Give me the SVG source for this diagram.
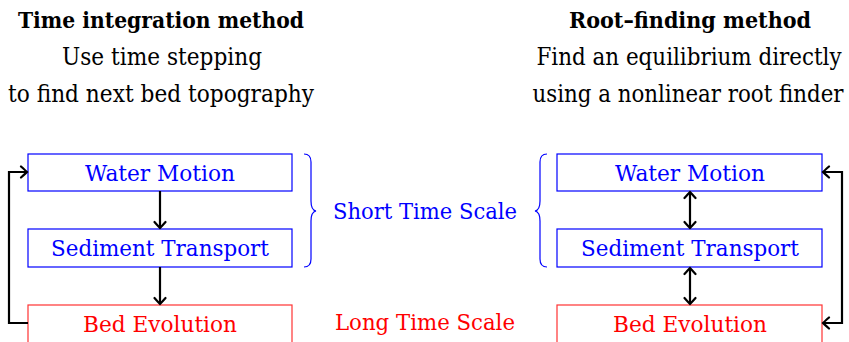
<svg xmlns="http://www.w3.org/2000/svg" width="849" height="342" viewBox="0 0 849 342">
  <style>
    text { font-family: "DejaVu Serif", "Liberation Serif", serif; text-anchor: middle; }
    .title { font-size: 22px; font-weight: bold; fill: #000; }
    .sub { font-size: 24.5px; fill: #000; }
    .lbl { font-size: 21.5px; }
    .blue { fill: #0000ff; }
    .red { fill: #ff0000; }
    .boxb { fill: #fff; stroke: #0000ff; stroke-width: 1.2; }
    .boxr { fill: #fff; stroke: #ff3333; stroke-width: 1.2; }
    .conn { fill: none; stroke: #000; stroke-width: 2.2; }
    .brace { fill: none; stroke: #0000ff; stroke-width: 1.2; }
  </style>
  <defs>
    <marker id="to" viewBox="-8 -7 10 14" refX="0" refY="0" markerWidth="10" markerHeight="14" markerUnits="userSpaceOnUse" orient="auto-start-reverse">
      <path d="M -6 -5.5 Q -1.5 -1.5 0 0 Q -1.5 1.5 -6 5.5" fill="none" stroke="#000" stroke-width="2.2" stroke-linecap="round"/>
    </marker>
  </defs>

  <!-- column headings -->
  <g id="heading-left">
    <text class="title" x="161" y="27.5" textLength="286" lengthAdjust="spacingAndGlyphs">Time integration method</text>
    <text class="sub" x="162" y="65" textLength="200" lengthAdjust="spacingAndGlyphs">Use time stepping</text>
    <text class="sub" x="161" y="102" textLength="306" lengthAdjust="spacingAndGlyphs">to find next bed topography</text>
  </g>
  <g id="heading-right">
    <text class="title" x="690" y="27.5" textLength="242" lengthAdjust="spacingAndGlyphs">Root–finding method</text>
    <text class="sub" x="689" y="65" textLength="305" lengthAdjust="spacingAndGlyphs">Find an equilibrium directly</text>
    <text class="sub" x="688" y="102" textLength="311" lengthAdjust="spacingAndGlyphs">using a nonlinear root finder</text>
  </g>

  <!-- left column nodes -->
  <g id="water-left">
    <rect class="boxb" x="28" y="154" width="264" height="37"/>
    <text class="lbl blue" x="160" y="180.5" textLength="150" lengthAdjust="spacingAndGlyphs">Water Motion</text>
  </g>
  <g id="sediment-left">
    <rect class="boxb" x="28" y="229" width="264" height="38"/>
    <text class="lbl blue" x="160" y="255.5" textLength="218" lengthAdjust="spacingAndGlyphs">Sediment Transport</text>
  </g>
  <g id="bed-left">
    <rect class="boxr" x="28" y="305" width="264" height="50"/>
    <text class="lbl red" x="160" y="332" textLength="154" lengthAdjust="spacingAndGlyphs">Bed Evolution</text>
  </g>

  <!-- right column nodes -->
  <g id="water-right">
    <rect class="boxb" x="557" y="154" width="265" height="37"/>
    <text class="lbl blue" x="690" y="180.5" textLength="150" lengthAdjust="spacingAndGlyphs">Water Motion</text>
  </g>
  <g id="sediment-right">
    <rect class="boxb" x="557" y="229" width="265" height="38"/>
    <text class="lbl blue" x="690" y="255.5" textLength="218" lengthAdjust="spacingAndGlyphs">Sediment Transport</text>
  </g>
  <g id="bed-right">
    <rect class="boxr" x="557" y="305" width="265" height="50"/>
    <text class="lbl red" x="690" y="332" textLength="154" lengthAdjust="spacingAndGlyphs">Bed Evolution</text>
  </g>

  <!-- time-scale braces and labels -->
  <g id="short-scale">
    <path class="brace" d="M 304 154 Q 311 154 311 162 L 311 201 Q 311 210 316 211 Q 311 212 311 221 L 311 259 Q 311 267 304 267"/>
    <path class="brace" d="M 547 154 Q 540 154 540 162 L 540 201 Q 540 210 535 211 Q 540 212 540 221 L 540 259 Q 540 267 547 267"/>
    <text class="lbl blue" x="425" y="219" textLength="184" lengthAdjust="spacingAndGlyphs">Short Time Scale</text>
  </g>
  <g id="long-scale">
    <text class="lbl red" x="425" y="330" textLength="180" lengthAdjust="spacingAndGlyphs">Long Time Scale</text>
  </g>

  <!-- connectors -->
  <g id="connectors">
    <line class="conn" x1="160" y1="191" x2="160" y2="228" marker-end="url(#to)"/>
    <line class="conn" x1="160" y1="267" x2="160" y2="304" marker-end="url(#to)"/>
    <polyline class="conn" points="28,323 9,323 9,172 27,172" marker-end="url(#to)"/>
    <line class="conn" x1="690" y1="192" x2="690" y2="228" marker-start="url(#to)" marker-end="url(#to)"/>
    <line class="conn" x1="690" y1="268" x2="690" y2="304" marker-start="url(#to)" marker-end="url(#to)"/>
    <polyline class="conn" points="823,172 842,172 842,323 823,323" marker-start="url(#to)" marker-end="url(#to)"/>
  </g>
</svg>
